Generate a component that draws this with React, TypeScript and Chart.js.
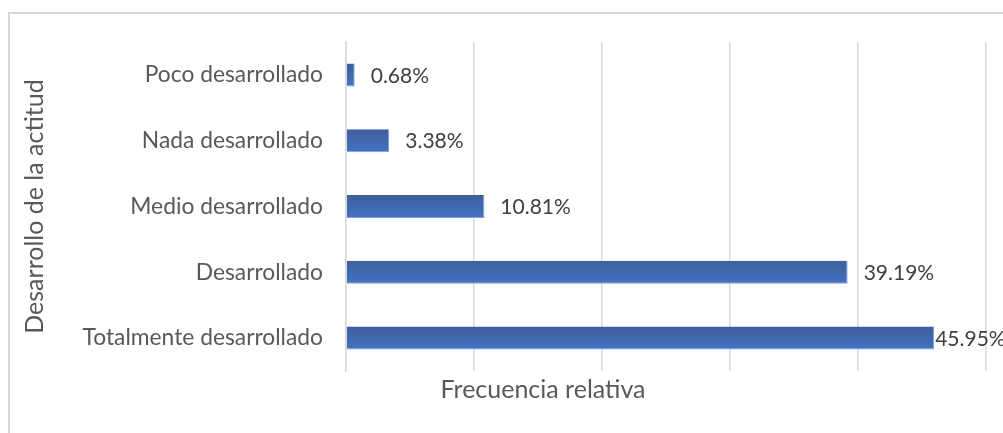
import React, { useEffect, useRef } from "react";
import { Chart, registerables } from "chart.js";

Chart.register(...registerables);

const categories = [
  "Poco desarrollado",
  "Nada desarrollado",
  "Medio desarrollado",
  "Desarrollado",
  "Totalmente desarrollado",
];
const frecuenciaRelativa = [0.68, 3.38, 10.81, 39.19, 45.95];
const xTitle = "Frecuencia relativa";
const yTitle = "Desarrollo de la actitud";

const FONT = "Lato, 'Liberation Sans', sans-serif";

const labelPlugin = {
  id: "barValueLabels",
  afterDatasetsDraw(chart: any) {
    const ctx = chart.ctx;
    const meta = chart.getDatasetMeta(0);
    ctx.save();
    ctx.font = `21px ${FONT}`;
    ctx.fillStyle = "#404040";
    ctx.textAlign = "left";
    ctx.textBaseline = "middle";
    meta.data.forEach((el: any, i: number) => {
      const text = frecuenciaRelativa[i].toFixed(2) + "%";
      const w = ctx.measureText(text).width;
      let x = el.x + 16;
      if (x + w > chart.width) x = el.x + 1;
      ctx.fillText(text, x, el.y + 1);
    });
    // x-axis title, centred the way the original chart places it
    ctx.font = `25px ${FONT}`;
    ctx.fillStyle = "#595959";
    ctx.textAlign = "center";
    ctx.fillText(xTitle, 543, 390);
    ctx.restore();
  },
};

export default function App() {
  const canvasRef = useRef<HTMLCanvasElement | null>(null);

  useEffect(() => {
    const canvas = canvasRef.current;
    if (!canvas) return;
    const chart = new Chart(canvas, {
      type: "bar",
      data: {
        labels: categories,
        datasets: [
          {
            data: frecuenciaRelativa,
            backgroundColor: (c: any) => {
              const ch = c.chart;
              const ys = ch.scales && ch.scales.y;
              if (!ch.chartArea || !ys || c.type !== "data") return "#4472C4";
              const yc = ys.getPixelForValue(c.dataIndex);
              const h = 11.5;
              const g = ch.ctx.createLinearGradient(0, yc - h, 0, yc + h);
              g.addColorStop(0, "#3F5F9B");
              g.addColorStop(0.5, "#4168AE");
              g.addColorStop(1, "#4472C4");
              return g;
            },
            borderColor: "#7F9FD6",
            borderWidth: { top: 0, bottom: 1, left: 0, right: 1 },
            borderSkipped: false,
            barPercentage: 0.35,
            categoryPercentage: 1,
          },
        ],
      },
      options: {
        indexAxis: "y",
        animation: false,
        responsive: false,
        maintainAspectRatio: false,
        layout: { padding: { left: 0, right: 17, top: 42, bottom: 0 } },
        plugins: {
          legend: { display: false },
          tooltip: { enabled: false },
          title: { display: false },
        },
        scales: {
          x: {
            min: 0,
            max: 50,
            ticks: { display: false, stepSize: 10 },
            grid: { color: "#D9D9D9", lineWidth: 1.5, drawTicks: false },
            border: { display: false },
            title: { display: false, text: xTitle },
            afterFit: (s: any) => {
              s.height = 62;
            },
          },
          y: {
            ticks: {
              color: "#595959",
              font: { family: FONT, size: 22.8 },
              padding: 23,
            },
            grid: { display: false, drawTicks: false },
            border: { display: true, color: "#D9D9D9", width: 1.5 },
            title: {
              display: true,
              text: yTitle,
              color: "#595959",
              font: { family: FONT, size: 25 },
              padding: { top: 20, bottom: 0 },
            },
            afterFit: (s: any) => {
              s.width = 346;
            },
          },
        },
      },
      plugins: [labelPlugin],
    } as any);
    return () => chart.destroy();
  }, []);

  return (
    <div
      style={{
        position: "fixed",
        left: 0,
        top: 0,
        width: 1003,
        height: 433,
        background: "#ffffff",
        overflow: "hidden",
      }}
    >
      <div
        style={{
          position: "absolute",
          left: 8,
          top: 12,
          width: 1200,
          height: 600,
          borderLeft: "2px solid #D9D9D9",
          borderTop: "2px solid #D9D9D9",
        }}
      />
      <canvas
        ref={canvasRef}
        width={1003}
        height={433}
        style={{ position: "absolute", left: 0, top: 0, width: 1003, height: 433 }}
      />
    </div>
  );
}
